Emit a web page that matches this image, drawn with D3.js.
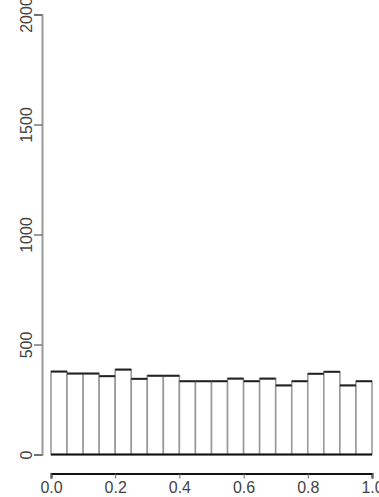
<!DOCTYPE html>
<html><head><meta charset="utf-8">
<script src="https://cdn.jsdelivr.net/npm/d3@7"></script>
<style>body{margin:0;background:#fff}svg{display:block}text{font-family:"Liberation Sans",Arial,sans-serif}</style>
</head><body><svg id="c" width="379" height="497"></svg>
<script>
// histogram bins (breaks 0..1 by 0.05) and counts
const binStarts = [0,0.05,0.1,0.15,0.2,0.25,0.3,0.35,0.4,0.45,0.5,0.55,0.6,0.65,0.7,0.75,0.8,0.85,0.9,0.95];
const counts = [377,368,368,356,386,344,358,358,333,333,333,345,333,345,314,333,367,376,314,333];
const xTicks = [0,0.2,0.4,0.6,0.8,1.0];
const xTickLabels = ["0.0","0.2","0.4","0.6","0.8","1.0"];
const yTicks = [0,500,1000,1500,2000];
const binWidth = 0.05;

const svg = d3.select("#c");
const x = d3.scaleLinear().domain([0,1]).range([51,372]);
const y = d3.scaleLinear().domain([0,2000]).range([454.5,14.5]);

const data = binStarts.map((s,i)=>({s, c:counts[i]}));

// bars
svg.append("g").selectAll("rect").data(data).join("rect")
  .attr("x", d=>x(d.s)).attr("width", d=>x(d.s+binWidth)-x(d.s))
  .attr("y", d=>y(d.c)).attr("height", d=>y(0)-y(d.c))
  .attr("fill","#fff").attr("stroke","#9a9a9a").attr("stroke-width",1.6);
// top edges
svg.append("g").selectAll("line").data(data).join("line")
  .attr("x1", d=>x(d.s)).attr("x2", d=>x(d.s+binWidth))
  .attr("y1", d=>y(d.c)).attr("y2", d=>y(d.c))
  .attr("stroke","#222").attr("stroke-width",2);
// baseline of bars
svg.append("line").attr("x1",x(0)).attr("x2",x(1)).attr("y1",y(0)).attr("y2",y(0))
  .attr("stroke","#111").attr("stroke-width",2);

// y axis
const ya = svg.append("g").attr("transform","translate(42,0)")
  .call(d3.axisLeft(y).tickValues(yTicks).tickSize(8).tickFormat(d3.format("d")));
ya.select(".domain").attr("stroke","#999").attr("stroke-width",2);
ya.selectAll(".tick line").attr("stroke","#555").attr("stroke-width",1.2);
ya.selectAll(".tick text").attr("font-size",16).attr("fill","#444")
  .attr("text-anchor","middle").attr("dy",null).attr("dominant-baseline","central")
  .attr("x",0).attr("transform","translate(-16,0) rotate(-90)");

// x axis
const xa = svg.append("g").attr("transform","translate(0,473.5)")
  .call(d3.axisBottom(x).tickValues(xTicks).tickSize(5).tickFormat((d,i)=>xTickLabels[i]));
xa.select(".domain").attr("stroke","#111").attr("stroke-width",2);
xa.selectAll(".tick line").attr("stroke","#666");
xa.selectAll(".tick text").attr("font-size",16).attr("fill","#444").attr("y",8);
</script></body></html>
